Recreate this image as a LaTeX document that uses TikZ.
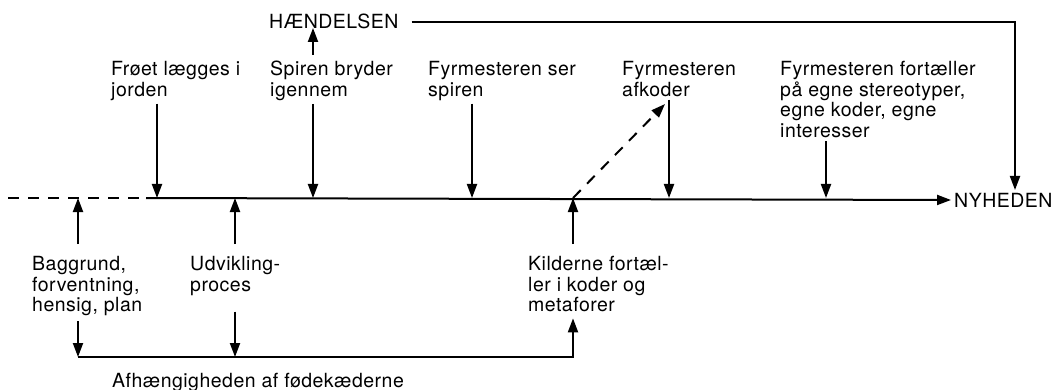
\documentclass[tikz,border=0pt]{standalone}
\usepackage{fontspec}
\newfontfamily\heros{TeX Gyre Heros}[Scale=1.95,LetterSpace=2.5]
\usepackage{tikz}
\usetikzlibrary{arrows.meta,       % pilespidser
           positioning}
\tikzset{
  tekst/.style={font=\heros\fontsize{10}{20.7}\selectfont, align=left, inner sep=0pt, anchor=north west},
  pil/.style={line width=2pt, -{Triangle[length=14pt,width=10pt]}, shorten <=3pt},
  stiplet/.style={line width=2pt, dash pattern=on 11pt off 9pt}
}

\begin{document}
\begin{tikzpicture}[x=1pt,y=-1pt]
\useasboundingbox(0,0)rectangle(1051,390);
% begivenhed og nyhed
\node[tekst](H)at(269,14){HÆNDELSEN};
\node[tekst,anchor=west](N)at(954,200){NYHEDEN};
% tekster over tidslinjen
\node[tekst](F1)at(111,61){Frøet lægges i\\jorden};
\node[tekst](F2)at(270,61){Spiren bryder\\igennem};
\node[tekst](F3)at(428,61){Fyrmesteren ser\\spiren};
\node[tekst](F4)at(622,61){Fyrmesteren\\afkoder};
\node[tekst](F5)at(780,61){Fyrmesteren fortæller\\på egne stereotyper,\\egne koder, egne\\interesser};
% tekster under tidslinjen
\node[tekst](B1)at(32,256){Baggrund,\\forventning,\\hensig, plan};
\node[tekst](B2)at(190,256){Udvikling-\\proces};
\node[tekst](B3)at(528,256){Kilderne fortæl-\\ler i koder og\\metaforer};
\node[tekst](A)at(112,373){Afhængigheden af fødekæderne};
% punkter
\coordinate(m0)at(8,198);
\coordinate(m1)at(146,198);
\coordinate(t1)at(157,198);
\coordinate(t2)at(313,198);
\coordinate(t3)at(472,198);
\coordinate(t4)at(669,198);
\coordinate(t5)at(826,198);
\coordinate(k)at(1015,198);
\coordinate(b1)at(78,198);
\coordinate(b2)at(235,198);
\coordinate(b3)at(573,198);
\coordinate(u1)at(78,357);
\coordinate(u2)at(235,357);
\coordinate(u3)at(573,357);
\coordinate(h)at(313,28);
\coordinate(d)at(665,104);
% tidslinjen
\draw[stiplet](m0)--(m1);
\draw[pil,shorten <=0pt,shorten >=3pt](m1)--(N.west);
\draw[pil,shorten <=13pt,shorten >=8pt](H.east)-|(k);
\draw[pil,shorten <=6pt](F2.north -| h)--(h);
\foreach \t/\n in {t1/F1,t2/F2,t3/F3,t4/F4,t5/F5}
  \draw[pil](\n.south -| \t)--(\t);
\foreach \b/\n in {b1/B1,b2/B2,b3/B3}
  \draw[pil,shorten <=12pt](\n.north -| \b)--(\b);
\draw[stiplet,-{Triangle[length=14pt,width=10pt]}](b3)--(d);
% fødekæderne
\draw[pil,shorten <=5pt](B1.south -| u1)--(u1);
\draw[pil,shorten <=16pt](B2.south -| u2)--(u2);
\draw[pil,shorten <=0pt,shorten >=6pt](u1)--(u3)--(B3.south -| u3);
\end{tikzpicture}
\end{document}
